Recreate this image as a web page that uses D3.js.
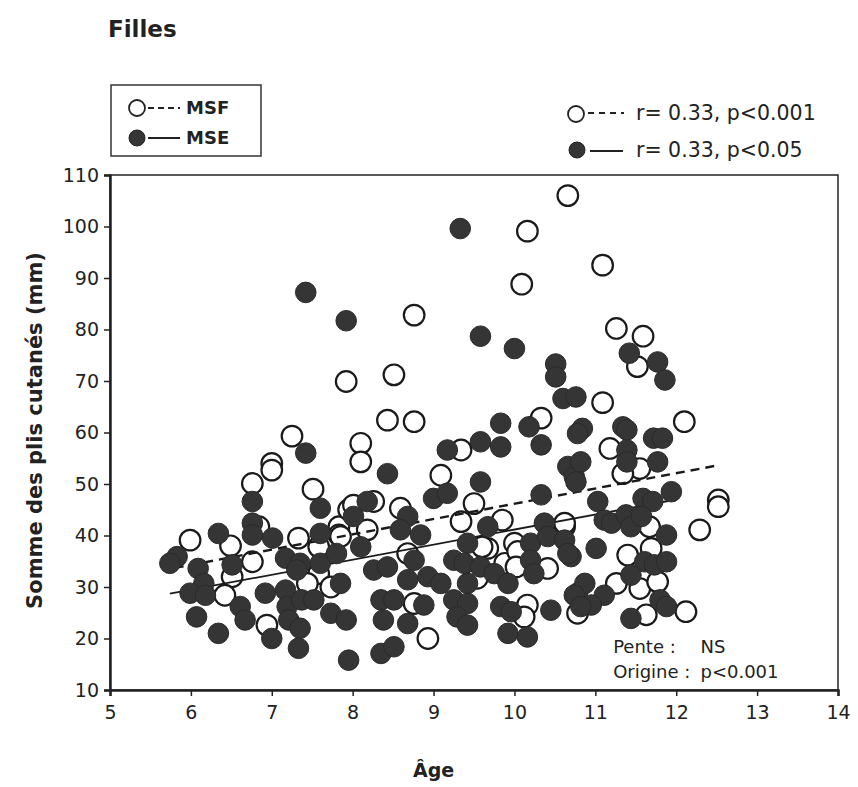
<!DOCTYPE html>
<html>
<head>
<meta charset="utf-8">
<script src="https://cdn.jsdelivr.net/npm/d3@7"></script>
<style>
body { margin: 0; background: #fff; }
text { font-family: "DejaVu Sans", Verdana, sans-serif; fill: #222; }
</style>
</head>
<body>
<div id="chart"></div>
<script>
// MSF (open circles): [age, sum of skinfolds]
const msf = [
[10.66,106],[10.16,99.1],[10.09,88.8],[8.76,82.8],[7.92,69.9],[8.51,71.2],[8.43,62.4],[8.76,62.1],
[10.33,62.8],[11.09,92.5],[11.26,80.2],[11.59,78.7],[11.52,72.8],[11.09,65.8],[12.1,62.1],[7.25,59.3],
[7.0,54],[7.0,52.7],[6.76,50.1],[7.51,49],[6.84,41.7],[5.99,39.1],[6.49,38],[7.33,39.5],[7.83,41.7],
[7.95,45],[6.76,34.9],[7.58,37.8],[7.83,40.1],[7.58,32.6],[7.73,30],[6.51,32],[6.42,28.4],[6.94,22.6],
[7.44,30.7],[8.1,57.9],[8.1,54.3],[9.34,56.6],[9.09,51.7],[9.5,46.2],[9.85,43],[9.34,42.7],[8.26,46.6],
[8.01,45.9],[8.59,45.3],[8.18,41.1],[7.85,39.8],[8.68,36.5],[8.76,26.8],[8.93,20],[9.54,31.7],[9.67,37.5],
[9.88,34.6],[10.0,38.5],[10.16,26.5],[10.12,24.2],[10.41,33.6],[10.62,41.7],[10.78,24.9],[11.18,56.9],
[11.55,53],[11.34,52],[12.52,46.9],[12.52,45.6],[12.29,41.1],[11.67,41.7],[10.62,42.4],[11.4,36.2],
[11.69,37.5],[11.26,30.7],[11.55,29.7],[11.77,31],[11.63,24.6],[12.12,25.2],[9.6,37.8],[10.04,36.9],
[10.02,33.9]
];

// MSE (filled circles)
const mse = [
[9.33,99.6],[7.42,87.2],[7.92,81.7],[9.58,78.7],[10.0,76.3],[10.51,73.3],[10.51,70.8],[10.6,66.6],
[10.76,66.9],[9.83,61.8],[10.18,61.1],[10.84,60.8],[11.34,61.1],[11.42,75.4],[11.77,73.7],[11.86,70.2],
[7.42,56],[6.76,46.6],[7.6,45.3],[6.76,42.4],[6.34,40.4],[6.76,40.1],[7.01,39.5],[7.6,40.4],[5.83,35.9],
[5.74,34.6],[6.09,33.6],[6.51,34.3],[7.17,35.6],[7.35,34.6],[7.6,34.6],[7.8,36.5],[7.85,30.7],[6.16,30.7],
[5.99,28.8],[6.18,28.4],[6.61,26.2],[6.67,23.6],[6.07,24.2],[6.34,21],[6.92,28.8],[7.0,20],[7.17,29.4],
[7.19,26.2],[7.21,23.6],[7.35,22],[7.33,18.1],[7.37,27.5],[7.52,27.5],[7.73,24.9],[7.92,23.6],[7.95,15.8],
[7.31,33.3],[8.43,52],[9.17,56.6],[9.58,58.2],[9.83,57.2],[10.33,57.6],[10.78,59.8],[9.0,47.2],[9.17,48.2],
[9.58,50.4],[10.33,47.9],[10.66,53.4],[10.74,51.4],[9.67,41.7],[8.18,46.6],[8.01,43.7],[8.68,43.7],
[8.59,41.1],[8.84,40.1],[8.1,37.8],[8.26,33.3],[8.43,33.9],[8.76,35.2],[8.68,31.4],[8.93,32],[9.09,30.7],
[8.35,27.5],[8.51,27.5],[8.38,23.6],[8.68,22.9],[8.88,26.5],[8.35,17.1],[8.51,18.4],[9.25,35.2],[9.42,38.5],
[9.38,34.6],[9.58,33.9],[9.75,32.6],[9.42,30.7],[9.25,27.5],[9.42,26.8],[9.29,24.2],[9.42,22.6],[9.92,30.7],
[10.2,38.5],[10.37,42.4],[10.2,35.2],[10.24,32.6],[9.83,26.2],[9.96,25.2],[9.92,21],[10.16,20.3],[10.45,25.5],
[10.41,39.8],[10.62,39.1],[10.7,35.9],[10.78,28.8],[11.39,60.5],[11.72,58.9],[11.83,58.9],[11.39,56.6],
[11.39,54.3],[11.77,54.3],[10.82,54.3],[10.76,50.4],[11.94,48.5],[11.03,46.6],[11.59,47.2],[11.71,46.6],
[11.11,43],[11.2,42.4],[11.38,44],[11.44,41.7],[11.57,43.7],[11.88,40.1],[10.66,36.5],[11.01,37.5],
[11.61,34.9],[11.73,34.3],[11.88,34.9],[11.44,32.3],[10.87,30.7],[10.74,28.4],[11.11,28.4],[10.95,26.5],
[10.82,26.2],[11.8,27.5],[11.88,26.2],[11.44,23.9]
];

// regression lines (start / end)
const lineMSF = [[5.8, 33.7], [12.54, 53.7]];
const lineMSE = [[5.74, 28.7], [11.9, 46.7]];

const xTicks = [5,6,7,8,9,10,11,12,13,14];
const yTicks = [10,20,30,40,50,60,70,80,90,100,110];

const W = 858, H = 787;
const margin = { top: 175, right: 20, bottom: 97, left: 110 };
const width = W - margin.left - margin.right,
      height = H - margin.top - margin.bottom;

const root = d3.select("#chart").append("svg")
  .attr("width", W).attr("height", H);

const svg = root.append("g")
  .attr("transform", `translate(${margin.left},${margin.top})`);

const x = d3.scaleLinear().domain([5, 14]).range([0, width]);
const y = d3.scaleLinear().domain([10, 110]).range([height, 0]);

// frame
svg.append("rect")
  .attr("width", width).attr("height", height)
  .attr("fill", "none").attr("stroke", "#222").attr("stroke-width", 1.5);

// axes
const xAxis = svg.append("g")
  .attr("transform", `translate(0,${height})`)
  .call(d3.axisBottom(x).tickValues(xTicks).tickSize(6).tickPadding(10));
const yAxis = svg.append("g")
  .call(d3.axisLeft(y).tickValues(yTicks).tickSize(6).tickPadding(5));
[xAxis, yAxis].forEach(a => {
  a.select(".domain").attr("stroke", "#222").attr("stroke-width", 2.5);
  a.selectAll(".tick line").attr("stroke", "#222").attr("stroke-width", 1.5);
  a.selectAll(".tick text").style("font-size", "19px").attr("fill", "#222");
});

const r = 10.3;

// open circles
svg.append("g").selectAll("circle")
  .data(msf).enter().append("circle")
  .attr("cx", d => x(d[0])).attr("cy", d => y(d[1])).attr("r", r)
  .attr("fill", "#fff").attr("stroke", "#1a1a1a").attr("stroke-width", 2.2);

// regression lines
const lineGen = d3.line().x(d => x(d[0])).y(d => y(d[1]));
svg.append("path").attr("d", lineGen(lineMSF))
  .attr("fill", "none").attr("stroke", "#1a1a1a").attr("stroke-width", 2.4)
  .attr("stroke-dasharray", "9,6");
svg.append("path").attr("d", lineGen(lineMSE))
  .attr("fill", "none").attr("stroke", "#1a1a1a").attr("stroke-width", 1.8);

// filled circles
svg.append("g").selectAll("circle")
  .data(mse).enter().append("circle")
  .attr("cx", d => x(d[0])).attr("cy", d => y(d[1])).attr("r", r)
  .attr("fill", "#353535").attr("stroke", "#2a2a2a").attr("stroke-width", 1);

// annotation inside plot
const ann = svg.append("g").style("font-size", "18px");
ann.append("text").attr("x", x(11.22)).attr("y", y(17.1)).text("Pente :");
ann.append("text").attr("x", x(12.3)).attr("y", y(17.1)).text("NS");
ann.append("text").attr("x", x(11.22)).attr("y", y(12.3)).text("Origine :");
ann.append("text").attr("x", x(12.3)).attr("y", y(12.3)).text("p<0.001");

// title
root.append("text").attr("x", 108).attr("y", 37)
  .style("font-size", "23px").style("font-weight", "bold").text("Filles");

// legend box
const lg = root.append("g");
lg.append("rect").attr("x", 111).attr("y", 85).attr("width", 150).attr("height", 71)
  .attr("fill", "none").attr("stroke", "#333").attr("stroke-width", 1.5);
lg.append("circle").attr("cx", 137).attr("cy", 108).attr("r", 8)
  .attr("fill", "#fff").attr("stroke", "#222").attr("stroke-width", 1.8);
lg.append("line").attr("x1", 148).attr("x2", 180).attr("y1", 108).attr("y2", 108)
  .attr("stroke", "#222").attr("stroke-width", 2).attr("stroke-dasharray", "6,4");
lg.append("text").attr("x", 186).attr("y", 114).style("font-size", "18px")
  .style("font-weight", "bold").text("MSF");
lg.append("circle").attr("cx", 137).attr("cy", 138).attr("r", 8)
  .attr("fill", "#353535").attr("stroke", "#222");
lg.append("line").attr("x1", 148).attr("x2", 180).attr("y1", 138).attr("y2", 138)
  .attr("stroke", "#222").attr("stroke-width", 2);
lg.append("text").attr("x", 186).attr("y", 144).style("font-size", "18px")
  .style("font-weight", "bold").text("MSE");

// correlation legend
const cl = root.append("g");
cl.append("circle").attr("cx", 576).attr("cy", 114).attr("r", 8)
  .attr("fill", "#fff").attr("stroke", "#222").attr("stroke-width", 1.8);
cl.append("line").attr("x1", 588).attr("x2", 624).attr("y1", 113).attr("y2", 113)
  .attr("stroke", "#222").attr("stroke-width", 2).attr("stroke-dasharray", "6,5");
cl.append("text").attr("x", 636).attr("y", 120).style("font-size", "20.5px").text("r= 0.33, p<0.001");
cl.append("circle").attr("cx", 577).attr("cy", 150).attr("r", 8)
  .attr("fill", "#353535").attr("stroke", "#222");
cl.append("line").attr("x1", 590).attr("x2", 623).attr("y1", 151).attr("y2", 151)
  .attr("stroke", "#222").attr("stroke-width", 2);
cl.append("text").attr("x", 636).attr("y", 157).style("font-size", "20.5px").text("r= 0.33, p<0.05");

// axis titles
root.append("text").attr("x", margin.left + x(9)).attr("y", 777)
  .attr("text-anchor", "middle").style("font-size", "19px").style("font-weight", "bold")
  .text("Âge");
root.append("text")
  .attr("transform", `translate(42,${margin.top + height / 2 - 2}) rotate(-90)`)
  .attr("text-anchor", "middle").style("font-size", "21px").style("font-weight", "bold")
  .text("Somme des plis cutanés (mm)");
</script>
</body>
</html>
